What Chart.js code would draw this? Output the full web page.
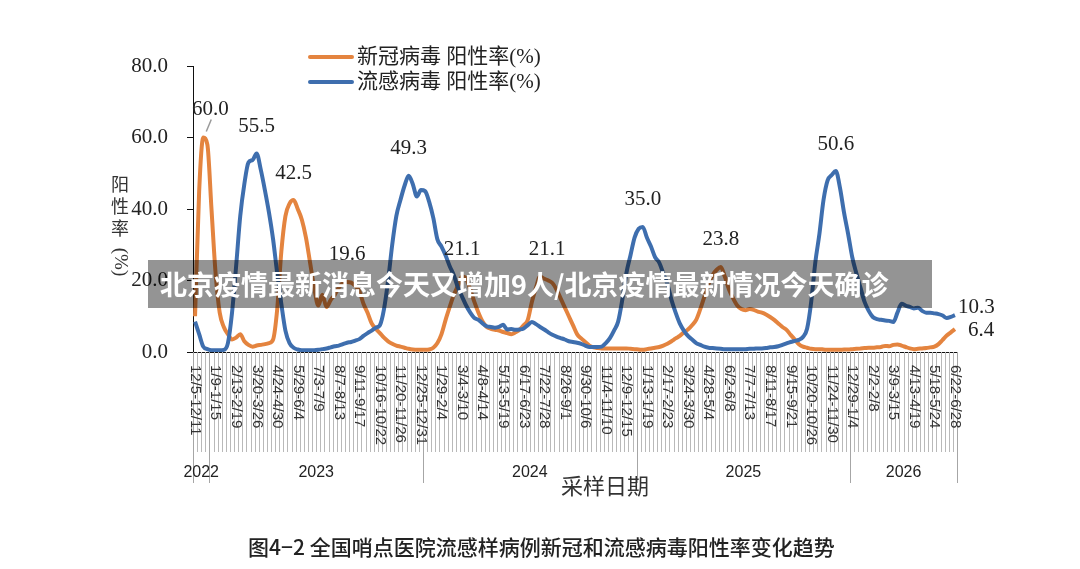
<!DOCTYPE html>
<html>
<head>
<meta charset="utf-8">
<script src="https://cdn.jsdelivr.net/npm/chart.js@4"></script>
<style>
html,body{margin:0;padding:0;background:#fff;}
#wrap{position:relative;width:1080px;height:569px;overflow:hidden;background:#fff;}
#c{position:absolute;left:0;top:0;}
#banner{position:absolute;left:148px;top:260px;width:784px;height:48px;background:rgba(0,0,0,0.42);color:#fff;font-family:"Noto Sans CJK SC",sans-serif;font-weight:bold;font-size:27px;line-height:48px;padding-left:12px;box-sizing:border-box;white-space:nowrap;}
#caption{position:absolute;left:248px;top:531px;font-family:"Noto Sans CJK SC",sans-serif;font-weight:500;font-size:21px;line-height:30px;color:#222;white-space:nowrap;}
</style>
</head>
<body>
<div id="wrap">
<canvas id="c" width="1080" height="569"></canvas>
<div id="banner">北京疫情最新消息今天又增加9人/北京疫情最新情况今天确诊</div>
<div id="caption">图4−2 全国哨点医院流感样病例新冠和流感病毒阳性率变化趋势</div>
</div>
<script>
// ---------- DATA ----------
const tickLabels = ['12/5-12/11','1/9-1/15','2/13-2/19','3/20-3/26','4/24-4/30','5/29-6/4','7/3-7/9','8/7-8/13','9/11-9/17','10/16-10/22','11/20-11/26','12/25-12/31','1/29-2/4','3/4-3/10','4/8-4/14','5/13-5/19','6/17-6/23','7/22-7/28','8/26-9/1','9/30-10/6','11/4-11/10','12/9-12/15','1/13-1/19','2/17-2/23','3/24-3/30','4/28-5/4','6/2-6/8','7/7-7/13','8/11-8/17','9/15-9/21','10/20-10/26','11/24-11/30','12/29-1/4','2/2-2/8','3/9-3/15','4/13-4/19','5/18-5/24','6/22-6/28'];
const tickEvery = 5;
const years = ['2022','2023','2024','2025','2026'];
const yearStartWeek = [0,4,56,108,160];
const seriesNames = ['新冠病毒 阳性率(%)','流感病毒 阳性率(%)'];

const covid = [
 10,45,60,58,40,22,11,7,5,3.5,
 4,5,3,2,1.5,1.8,2,2.2,2.5,3.5,
 12,28,38,41.5,42.5,40,37,32,25,18,
 13,16,12.6,14.5,16,18,19.3,19.6,19.4,18.5,
 17,13.5,11,8,6.5,5.3,4,3,2.3,1.8,
 1.5,1.2,0.9,0.7,0.6,0.6,0.6,0.7,1.2,2.5,
 5,9,12.6,16,18.5,21.1,20.5,17.5,14,11,
 8.5,7,6.5,6.2,6,5.6,5.3,5,5.5,6.2,
 7.5,9,14,18,21.1,20.5,20,19.3,17.5,15,
 12.5,10,7.5,5,3.8,2.8,1.8,1.3,1.1,1,
 1,1,1,1,1,1,0.9,0.8,0.7,0.6,
 0.8,1,1.2,1.4,1.8,2.3,3,3.8,4.5,5.5,
 6.3,7.5,9,12,15.5,19,21.5,23,23.8,21,
 17.5,15,13,12,11.7,12,11.8,11.3,11,10.5,
 9.8,9,8,7,6.2,4.8,3.5,2.2,1.5,1.2,
 0.9,0.8,0.8,0.7,0.6,0.6,0.6,0.6,0.7,0.7,
 0.8,0.9,1,1.1,1.2,1.2,1.3,1.4,1.7,1.6,
 2,2.1,1.8,1.4,1,0.8,0.9,1,1.1,1.3,
 1.5,2.2,3.4,4.6,5.5,6.4
];
const flu = [
 8.5,5,1.5,0.8,0.5,0.5,0.5,0.6,2.5,11,
 24,38,47,53,53.7,55.5,51,45.3,39,31.5,
 22,13.5,6,2.5,1.2,0.7,0.5,0.5,0.5,0.5,
 0.6,0.8,1,1.3,1.6,1.8,2.2,2.6,2.8,3.2,
 3.6,4.5,5.3,6,6.8,7.5,12,20,30,38,
 42.5,46.5,49.3,47,43.5,45.3,45,42,37.5,31.5,
 29.5,27,24,21.5,18,15.5,13,11,9.5,9,
 8,7.2,7,6.8,7,7.6,6.3,6.4,6.2,6.3,
 6.6,7.5,8.4,7.8,7,6.3,5.5,4.8,4.3,3.9,
 3.5,3,2.8,2.6,2.3,1.8,1.4,1.4,1.4,1.5,
 2.5,3.9,6,8.5,14.5,22,27,32,34.5,35,
 32,29.5,26.5,25,22,19,14.5,11,8,6,
 4.5,3.5,2.5,2,1.5,1.2,1.1,1,0.9,0.8,
 0.8,0.8,0.8,0.8,0.8,0.9,0.9,1,1,1.1,
 1.3,1.4,1.6,2,2.4,2.8,3.1,3.4,4.2,6.5,
 14,25,33,42.5,48,49.5,50.6,46,39,33,
 26.5,22,18,14,11.5,9.8,9.2,9,8.8,8.7,
 8.4,11,13.5,13,12.6,12.2,12.4,11.5,11,11,
 10.8,10.6,10.2,9.5,9.8,10.3
];
// weeks whose values are printed
const covidLabelWeeks = [2,24,37,65,84,128,185];
const fluLabelWeeks = [15,52,109,156,185];

// ---------- BUILD ----------
const nWeeks = covid.length;
const categories = covid.map((_, i) => (i % tickEvery === 0) ? tickLabels[i / tickEvery] : '');

const COVID_COLOR = '#E4843F';
const FLU_COLOR = '#3E6EAE';
const SERIF = '"Liberation Serif","Noto Sans CJK SC",serif';
const CJK = '"Noto Sans CJK SC",sans-serif';

// label placement styles (offsets from the point)
const labelStyle = {
  'c2':  {dx:7, dy:-28, leader:true},
  'c84': {dx:7, dy:-27},
  'c185':{dx:13, dy:1, align:'left'},
  'f185':{dx:3, dy:-8, align:'left'}
};

const decor = {
  id:'decor',
  afterDraw(chart){
    const ctx = chart.ctx;
    const xs = chart.scales.x;
    const area = chart.chartArea;
    const p0 = xs.getPixelForValue(0), p1 = xs.getPixelForValue(1);
    const half = (p1 - p0) / 2;
    const boundary = i => (i < nWeeks ? xs.getPixelForValue(i) - half : xs.getPixelForValue(nWeeks - 1) + half);
    const yBase = area.bottom;
    ctx.save();
    // week separators
    ctx.strokeStyle = '#b9b9b9';
    ctx.lineWidth = 1;
    ctx.beginPath();
    for (let i = 0; i <= nWeeks; i++) {
      if (yearStartWeek.includes(i) || i === nWeeks) continue;
      const x = Math.round(boundary(i)) + 0.5;
      ctx.moveTo(x, yBase); ctx.lineTo(x, yBase + 100);
    }
    ctx.stroke();
    // year separators
    ctx.strokeStyle = '#a6a6a6';
    ctx.beginPath();
    const yb = yearStartWeek.concat([nWeeks]);
    yb.forEach(i => {
      const x = Math.round(boundary(i)) + 0.5;
      ctx.moveTo(x, yBase); ctx.lineTo(x, yBase + 131);
    });
    ctx.stroke();
    // rotated tick labels
    ctx.fillStyle = '#333';
    ctx.font = '15px "Liberation Sans",sans-serif';
    ctx.textAlign = 'left';
    ctx.textBaseline = 'middle';
    categories.forEach((lab, i) => {
      if (!lab) return;
      const x = xs.getPixelForValue(i);
      ctx.save();
      ctx.translate(x, yBase + 13);
      ctx.rotate(Math.PI / 2);
      ctx.fillText(lab, 0, 0);
      ctx.restore();
    });
    // year labels
    ctx.textAlign = 'center';
    ctx.font = '16px "Liberation Sans",sans-serif';
    ctx.fillStyle = '#222';
    years.forEach((y, k) => {
      const a = boundary(yb[k]), b = boundary(yb[k + 1]);
      ctx.fillText(y, (a + b) / 2, yBase + 121);
    });
    // x title
    ctx.font = '22px ' + CJK;
    ctx.fillStyle = '#333';
    ctx.fillText('采样日期', (area.left + area.right) / 2 + 30, yBase + 134);
    // y title (stacked)
    ctx.font = '18px ' + CJK;
    ctx.fillStyle = '#333';
    ['阳','性','率'].forEach((ch, k) => ctx.fillText(ch, 120, 184 + k * 22));
    ctx.save();
    ctx.translate(120, 262);
    ctx.rotate(Math.PI / 2);
    ctx.font = '19px ' + SERIF;
    ctx.fillText('(%)', 0, 0);
    ctx.restore();
    // legend
    const legend = [[seriesNames[0], COVID_COLOR, 57], [seriesNames[1], FLU_COLOR, 82]];
    legend.forEach(([txt, col, y]) => {
      ctx.strokeStyle = col; ctx.lineWidth = 4; ctx.lineCap = 'round';
      ctx.beginPath(); ctx.moveTo(310, y); ctx.lineTo(352, y); ctx.stroke();
      ctx.fillStyle = '#222';
      ctx.font = '21px ' + SERIF;
      ctx.textAlign = 'left';
      ctx.fillText(txt, 357, y);
    });
    // data labels
    ctx.font = '21px "Liberation Serif",serif';
    ctx.fillStyle = '#222';
    const drawLab = (dsIndex, weeks, key) => {
      const meta = chart.getDatasetMeta(dsIndex);
      const data = chart.data.datasets[dsIndex].data;
      weeks.forEach(i => {
        const pt = meta.data[i];
        const st = labelStyle[key + i] || {dx:0, dy:-27};
        ctx.textAlign = st.align || 'center';
        ctx.fillText(data[i].toFixed(1), pt.x + st.dx, pt.y + st.dy);
        if (st.leader) {
          ctx.strokeStyle = '#999'; ctx.lineWidth = 1.5; ctx.lineCap = 'butt';
          ctx.beginPath(); ctx.moveTo(pt.x + 3, pt.y - 6); ctx.lineTo(pt.x + 8, pt.y - 18); ctx.stroke();
        }
      });
    };
    drawLab(0, covidLabelWeeks, 'c');
    drawLab(1, fluLabelWeeks, 'f');
    ctx.restore();
  }
};

new Chart(document.getElementById('c'), {
  type: 'line',
  data: {
    labels: categories,
    datasets: [
      {label: seriesNames[0], data: covid, borderColor: COVID_COLOR, backgroundColor: COVID_COLOR, borderWidth: 4, pointRadius: 0, cubicInterpolationMode: 'monotone', fill: false, order: 1},
      {label: seriesNames[1], data: flu, borderColor: FLU_COLOR, backgroundColor: FLU_COLOR, borderWidth: 4, pointRadius: 0, cubicInterpolationMode: 'monotone', fill: false, order: 0}
    ]
  },
  options: {
    responsive: false,
    animation: false,
    layout: {padding: {left: 0, top: 66, right: 123, bottom: 67}},
    plugins: {legend: {display: false}, tooltip: {enabled: false}, title: {display: false}},
    scales: {
      x: {
        type: 'category', offset: true,
        grid: {display: true, drawOnChartArea: false, drawTicks: false},
        border: {display: true, color: '#111', width: 1},
        ticks: {display: false},
        afterFit(s) { s.height = 150; }
      },
      y: {
        min: 0, max: 80,
        ticks: {stepSize: 20, callback: v => Number(v).toFixed(1), font: {family: 'Liberation Serif', size: 21}, color: '#222', padding: 19},
        grid: {drawOnChartArea: false, drawTicks: true, tickLength: 6, color: '#111'},
        border: {display: true, color: '#111', width: 1},
        afterFit(s) { s.width = 193; }
      }
    }
  },
  plugins: [decor]
});
</script>
</body>
</html>
